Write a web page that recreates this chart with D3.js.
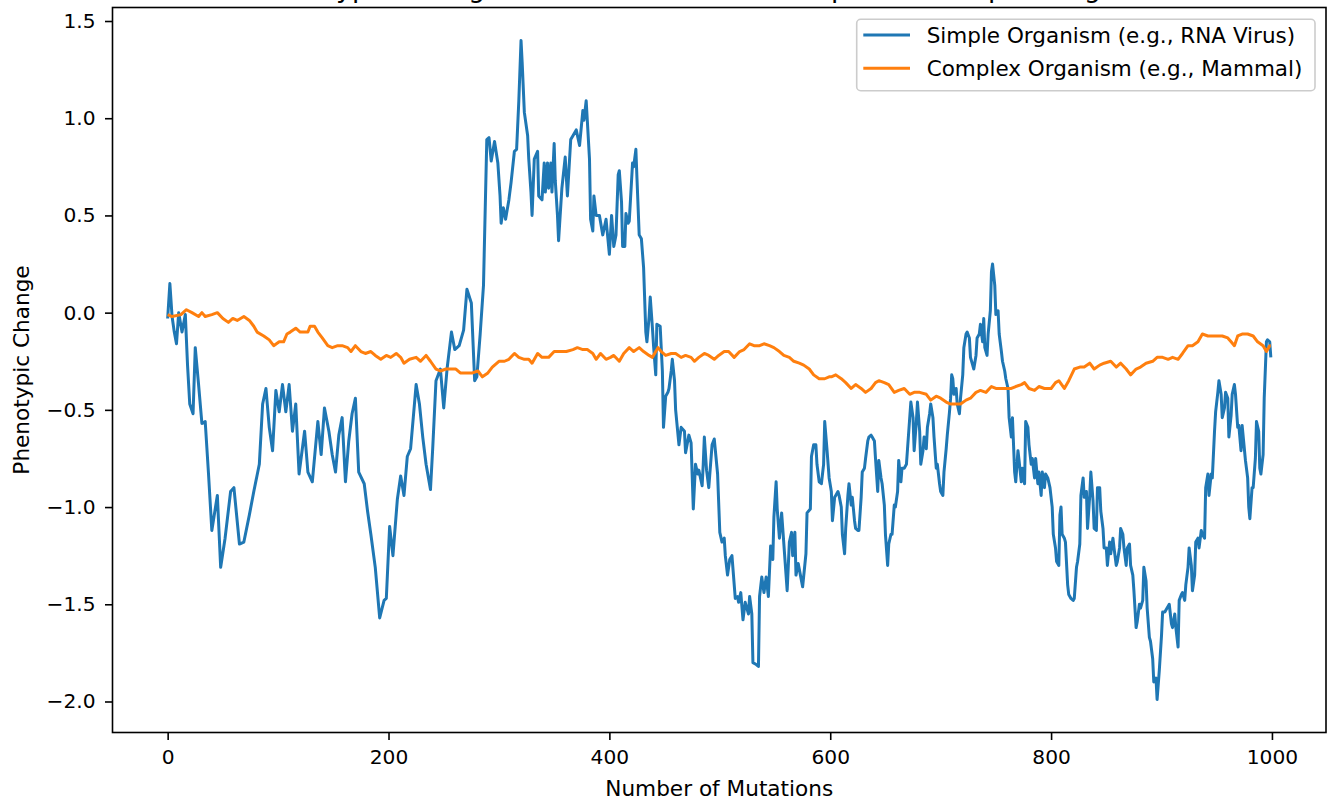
<!DOCTYPE html>
<html>
<head>
<meta charset="utf-8">
<script src="https://cdn.jsdelivr.net/npm/d3@7"></script>
<style>
  body { margin: 0; background: #fff; }
  svg text { font-family: "DejaVu Sans", sans-serif; fill: #000; }
</style>
</head>
<body>
<svg id="chart" width="1327" height="801"></svg>
<script>
// [mutation, phenotypic change]
const simplePoints = [
  [0,-0.03],[2,0.15],[4,-0.02],[6,-0.10],[8,-0.16],[10,0.00],[13,-0.10],[16,-0.01],[18,-0.27],[20,-0.47],
  [23,-0.52],[25,-0.18],[28,-0.37],[31,-0.57],[34,-0.56],[37,-0.83],[40,-1.12],[45,-0.94],[48,-1.31],[52,-1.16],
  [57,-0.92],[60,-0.90],[65,-1.19],[69,-1.18],[74,-1.04],[78,-0.92],[83,-0.78],[86,-0.47],[89,-0.39],[92,-0.59],
  [95,-0.71],[98,-0.40],[101,-0.51],[104,-0.37],[107,-0.51],[110,-0.37],[113,-0.61],[116,-0.47],[119,-0.83],[124,-0.61],
  [127,-0.82],[131,-0.87],[136,-0.56],[139,-0.73],[142,-0.49],[146,-0.61],[149,-0.73],[152,-0.82],[155,-0.63],[158,-0.54],
  [161,-0.87],[164,-0.66],[167,-0.52],[170,-0.44],[173,-0.82],[178,-0.88],[181,-1.02],[184,-1.14],[188,-1.31],[192,-1.57],
  [196,-1.48],[198,-1.47],[201,-1.10],[204,-1.25],[208,-0.96],[211,-0.84],[214,-0.94],[217,-0.74],[220,-0.70],[225,-0.37],
  [228,-0.47],[231,-0.64],[234,-0.78],[238,-0.91],[240,-0.70],[243,-0.35],[247,-0.29],[250,-0.49],[253,-0.29],[257,-0.10],
  [260,-0.19],[264,-0.17],[268,-0.09],[271,0.12],[275,0.05],[278,-0.35],[280,-0.33],[283,-0.11],[286,0.14],[289,0.89],
  [291,0.90],[293,0.78],[296,0.88],[299,0.77],[301,0.60],[302,0.46],[304,0.54],[306,0.48],[309,0.58],[311,0.67],
  [314,0.83],[316,0.84],[318,1.09],[320,1.40],[321,1.29],[323,1.03],[326,0.91],[327,0.79],[329,0.62],[330,0.50],
  [332,0.79],[335,0.83],[336,0.60],[339,0.58],[341,0.77],[342,0.62],[344,0.77],[345,0.64],[347,0.77],[348,0.62],
  [350,0.87],[351,0.68],[353,0.50],[354,0.37],[357,0.64],[360,0.80],[362,0.60],[365,0.89],[367,0.91],[370,0.94],
  [373,0.86],[376,1.04],[377,0.99],[379,1.09],[380,0.99],[382,0.79],[383,0.48],[385,0.42],[386,0.60],[388,0.50],
  [391,0.50],[394,0.40],[397,0.48],[400,0.30],[402,0.50],[404,0.34],[406,0.40],[408,0.71],[409,0.73],[411,0.57],
  [412,0.34],[414,0.34],[415,0.51],[417,0.46],[418,0.47],[421,0.77],[422,0.75],[424,0.84],[425,0.69],[427,0.40],
  [429,0.38],[431,0.23],[433,-0.10],[434,-0.15],[436,-0.02],[437,0.08],[439,-0.08],[440,-0.17],[442,-0.32],[443,-0.06],
  [446,-0.07],[448,-0.30],[449,-0.59],[451,-0.43],[453,-0.41],[454,-0.39],[456,-0.30],[457,-0.24],[459,-0.35],[460,-0.50],
  [463,-0.68],[465,-0.59],[468,-0.61],[469,-0.72],[472,-0.63],[474,-0.67],[476,-1.01],[478,-0.78],[480,-0.83],[481,-0.81],
  [484,-0.89],[485,-0.78],[486,-0.64],[488,-0.81],[490,-0.90],[493,-0.68],[495,-0.65],[498,-0.83],[500,-1.13],[502,-1.18],
  [504,-1.16],[505,-1.25],[507,-1.35],[509,-1.27],[511,-1.25],[514,-1.47],[516,-1.46],[517,-1.49],[519,-1.44],[521,-1.58],
  [523,-1.49],[524,-1.51],[526,-1.55],[527,-1.46],[529,-1.55],[530,-1.80],[533,-1.81],[535,-1.82],[536,-1.46],[538,-1.36],
  [540,-1.44],[542,-1.36],[544,-1.46],[546,-1.20],[548,-1.27],[549,-1.05],[551,-0.87],[552,-1.01],[554,-1.16],[556,-1.03],
  [557,-1.11],[559,-1.27],[561,-1.43],[563,-1.18],[565,-1.13],[566,-1.25],[568,-1.13],[569,-1.35],[571,-1.29],[573,-1.35],
  [575,-1.41],[578,-1.24],[579,-1.03],[582,-1.01],[583,-0.74],[585,-0.68],[587,-0.68],[588,-0.78],[590,-0.87],[592,-0.88],
  [594,-0.78],[595,-0.56],[597,-0.70],[599,-0.85],[601,-0.92],[602,-1.07],[604,-0.95],[605,-0.94],[607,-0.92],[608,-0.94],
  [610,-1.00],[611,-1.14],[613,-1.24],[614,-1.11],[616,-0.94],[617,-0.88],[619,-0.99],[620,-0.95],[622,-1.07],[623,-1.11],
  [625,-1.12],[626,-1.12],[628,-0.95],[629,-0.82],[631,-0.80],[632,-0.75],[634,-0.66],[635,-0.64],[637,-0.63],[638,-0.64],
  [640,-0.66],[641,-0.75],[643,-0.92],[644,-0.76],[646,-0.85],[647,-0.88],[649,-0.99],[650,-1.14],[652,-1.30],[653,-1.19],
  [655,-1.14],[656,-1.14],[658,-0.99],[659,-1.00],[661,-0.92],[662,-0.76],[664,-0.87],[665,-0.80],[667,-0.80],[669,-0.78],
  [670,-0.70],[672,-0.54],[673,-0.46],[675,-0.54],[676,-0.71],[678,-0.56],[679,-0.46],[681,-0.61],[682,-0.78],[684,-0.71],
  [685,-0.64],[687,-0.70],[688,-0.59],[690,-0.52],[691,-0.47],[693,-0.54],[694,-0.64],[696,-0.80],[697,-0.78],[699,-0.88],
  [700,-0.92],[702,-0.94],[703,-0.82],[705,-0.70],[706,-0.63],[708,-0.51],[709,-0.44],[710,-0.32],[711,-0.34],[712,-0.42],
  [714,-0.39],[715,-0.47],[717,-0.52],[718,-0.44],[720,-0.32],[721,-0.18],[723,-0.11],[724,-0.10],[726,-0.13],[727,-0.23],
  [729,-0.27],[730,-0.29],[732,-0.22],[733,-0.13],[735,-0.11],[736,-0.06],[738,-0.15],[739,-0.03],[740,-0.18],[742,-0.22],
  [743,-0.11],[745,0.01],[746,0.21],[747,0.25],[749,0.14],[750,-0.01],[752,0.01],[753,-0.11],[755,-0.20],[756,-0.25],
  [758,-0.30],[759,-0.34],[761,-0.39],[762,-0.54],[764,-0.64],[765,-0.54],[767,-0.82],[768,-0.87],[770,-0.71],[771,-0.76],
  [773,-0.87],[774,-0.80],[776,-0.88],[777,-0.56],[779,-0.59],[780,-0.68],[782,-0.78],[783,-0.75],[785,-0.85],[786,-0.75],
  [788,-0.88],[789,-0.82],[791,-0.94],[792,-0.82],[794,-0.90],[795,-0.83],[797,-0.85],[799,-0.90],[801,-1.00],[802,-1.14],
  [804,-1.21],[805,-1.28],[807,-1.30],[808,-1.04],[809,-1.00],[810,-1.14],[812,-1.16],[813,-1.18],[815,-1.40],[816,-1.45],
  [818,-1.47],[820,-1.48],[821,-1.47],[823,-1.31],[824,-1.28],[826,-1.19],[827,-0.94],[829,-0.85],[830,-0.95],[832,-0.92],
  [833,-1.11],[835,-0.94],[836,-0.82],[838,-0.97],[839,-1.11],[841,-1.12],[842,-0.90],[844,-0.90],[845,-1.02],[847,-1.11],
  [848,-1.21],[850,-1.21],[851,-1.30],[853,-1.18],[854,-1.24],[856,-1.16],[857,-1.21],[859,-1.30],[860,-1.28],[862,-1.21],
  [863,-1.11],[865,-1.14],[866,-1.21],[868,-1.30],[869,-1.21],[871,-1.19],[872,-1.30],[874,-1.35],[875,-1.43],[877,-1.62],
  [878,-1.59],[880,-1.50],[881,-1.52],[883,-1.48],[884,-1.31],[886,-1.38],[887,-1.52],[889,-1.67],[890,-1.69],[892,-1.78],
  [893,-1.90],[895,-1.88],[896,-1.99],[898,-1.84],[900,-1.66],[901,-1.54],[903,-1.54],[904,-1.53],[906,-1.51],[907,-1.50],
  [909,-1.60],[910,-1.62],[912,-1.55],[913,-1.62],[915,-1.72],[916,-1.48],[918,-1.45],[919,-1.44],[921,-1.48],[922,-1.40],
  [924,-1.31],[925,-1.21],[927,-1.30],[928,-1.43],[930,-1.35],[931,-1.18],[933,-1.16],[934,-1.21],[936,-1.12],[937,-1.14],
  [939,-1.16],[940,-0.90],[942,-0.83],[943,-0.94],[945,-0.83],[946,-0.85],[948,-0.61],[949,-0.51],[951,-0.41],[952,-0.35],
  [954,-0.42],[955,-0.54],[957,-0.49],[958,-0.41],[960,-0.44],[961,-0.64],[963,-0.53],[964,-0.42],[966,-0.37],[967,-0.42],
  [969,-0.59],[970,-0.58],[972,-0.71],[973,-0.58],[975,-0.70],[976,-0.76],[978,-0.85],[979,-1.00],[980,-1.06],[982,-0.90],
  [983,-0.90],[985,-0.75],[986,-0.56],[988,-0.61],[989,-0.80],[990,-0.83],[992,-0.73],[993,-0.44],[995,-0.15],[996,-0.14],
  [998,-0.15],[999,-0.23]
];

const complexPoints = [
  [0,-0.01],[4,-0.02],[12,-0.01],[17,0.015],[22,0.00],[28,-0.02],[31,0.00],[34,-0.02],[40,-0.01],[45,0.00],
  [50,-0.03],[55,-0.05],[59,-0.03],[63,-0.04],[69,-0.02],[74,-0.04],[78,-0.07],[81,-0.10],[87,-0.12],[92,-0.14],
  [96,-0.17],[101,-0.15],[105,-0.15],[108,-0.11],[111,-0.10],[116,-0.08],[120,-0.10],[127,-0.10],[129,-0.07],[133,-0.07],
  [136,-0.10],[140,-0.13],[145,-0.17],[149,-0.18],[154,-0.17],[158,-0.17],[163,-0.18],[166,-0.20],[170,-0.17],[175,-0.20],
  [179,-0.21],[184,-0.20],[188,-0.22],[193,-0.24],[198,-0.22],[202,-0.23],[207,-0.21],[211,-0.23],[214,-0.26],[219,-0.24],
  [225,-0.23],[229,-0.25],[234,-0.22],[238,-0.25],[243,-0.29],[247,-0.30],[252,-0.29],[256,-0.29],[261,-0.29],[265,-0.31],
  [270,-0.31],[276,-0.31],[281,-0.30],[285,-0.33],[290,-0.31],[294,-0.28],[300,-0.25],[305,-0.25],[309,-0.24],[314,-0.21],
  [318,-0.23],[323,-0.24],[327,-0.24],[330,-0.26],[335,-0.21],[339,-0.23],[345,-0.23],[350,-0.20],[355,-0.20],[361,-0.20],
  [367,-0.19],[371,-0.18],[376,-0.19],[380,-0.19],[385,-0.21],[388,-0.24],[392,-0.21],[397,-0.24],[401,-0.23],[404,-0.22],
  [409,-0.25],[413,-0.21],[418,-0.18],[422,-0.20],[427,-0.18],[431,-0.20],[436,-0.22],[439,-0.23],[444,-0.18],[447,-0.20],
  [451,-0.22],[456,-0.21],[460,-0.21],[465,-0.23],[469,-0.22],[474,-0.23],[477,-0.25],[481,-0.23],[486,-0.21],[490,-0.22],
  [495,-0.24],[499,-0.22],[504,-0.20],[508,-0.20],[513,-0.23],[518,-0.20],[522,-0.19],[527,-0.16],[531,-0.17],[536,-0.17],
  [540,-0.16],[545,-0.17],[549,-0.18],[554,-0.20],[558,-0.22],[563,-0.23],[567,-0.25],[572,-0.26],[576,-0.27],[581,-0.29],
  [585,-0.32],[590,-0.34],[595,-0.34],[599,-0.33],[601,-0.33],[605,-0.32],[610,-0.34],[614,-0.36],[619,-0.39],[623,-0.37],
  [628,-0.39],[632,-0.41],[637,-0.39],[641,-0.36],[644,-0.35],[649,-0.36],[653,-0.37],[658,-0.41],[662,-0.40],[667,-0.39],
  [672,-0.42],[676,-0.41],[681,-0.41],[687,-0.42],[691,-0.45],[696,-0.43],[700,-0.44],[705,-0.46],[709,-0.47],[714,-0.47],
  [718,-0.47],[723,-0.45],[727,-0.44],[732,-0.41],[736,-0.40],[741,-0.41],[746,-0.38],[750,-0.39],[755,-0.39],[759,-0.39],
  [764,-0.39],[768,-0.38],[773,-0.37],[776,-0.36],[780,-0.39],[785,-0.40],[789,-0.38],[794,-0.39],[800,-0.39],[804,-0.36],
  [807,-0.35],[812,-0.39],[816,-0.35],[821,-0.29],[826,-0.28],[830,-0.28],[835,-0.26],[839,-0.29],[844,-0.27],[848,-0.26],
  [854,-0.25],[859,-0.28],[863,-0.26],[868,-0.29],[872,-0.32],[877,-0.29],[881,-0.28],[886,-0.26],[892,-0.25],[896,-0.23],
  [901,-0.23],[906,-0.24],[910,-0.23],[915,-0.24],[919,-0.21],[924,-0.17],[928,-0.17],[933,-0.15],[937,-0.11],[942,-0.12],
  [946,-0.12],[951,-0.12],[955,-0.12],[960,-0.13],[963,-0.15],[966,-0.17],[969,-0.12],[973,-0.11],[978,-0.11],[983,-0.12],
  [987,-0.15],[992,-0.17],[995,-0.20],[998,-0.17],[999,-0.17]
];

const seriesNames = ["Simple Organism (e.g., RNA Virus)", "Complex Organism (e.g., Mammal)"];
const seriesColors = ["#1f77b4", "#ff7f0e"];
const xTicks = [0, 200, 400, 600, 800, 1000];
const yTicks = [-2.0, -1.5, -1.0, -0.5, 0.0, 0.5, 1.0, 1.5];
const chartTitle = "Phenotypic Change Due to Mutations in Simple vs. Complex Organisms";
const xLabel = "Number of Mutations";
const yLabel = "Phenotypic Change";

// axes box in pixels
const plotLeft = 112.5, plotRight = 1326, plotTop = 7.5, plotBottom = 732.5;

const svg = d3.select("#chart");

// 5% padding like matplotlib autoscale
const xMin = 0, xMax = 999;
const allValues = simplePoints.concat(complexPoints).map(d => d[1]);
const yMin = d3.min(allValues), yMax = d3.max(allValues);
const xPad = (xMax - xMin) * 0.05;
const yPad = (yMax - yMin) * 0.05;

const x = d3.scaleLinear().domain([xMin - xPad, xMax + xPad]).range([plotLeft, plotRight]);
const y = d3.scaleLinear().domain([yMin - yPad, yMax + yPad]).range([plotBottom, plotTop]);

// lines
const line = d3.line()
  .x(d => x(d[0]))
  .y(d => y(d[1]));

[simplePoints, complexPoints].forEach((pts, i) => {
  svg.append("path")
    .datum(pts)
    .attr("d", line)
    .attr("fill", "none")
    .attr("stroke", seriesColors[i])
    .attr("stroke-width", 3)
    .attr("stroke-linejoin", "round");
});

// axes
const xAxis = svg.append("g")
  .attr("transform", `translate(0,${plotBottom})`)
  .call(d3.axisBottom(x).tickValues(xTicks).tickFormat(d3.format("d")).tickSize(7.5).tickPadding(9.5));

const yAxis = svg.append("g")
  .attr("transform", `translate(${plotLeft},0)`)
  .call(d3.axisLeft(y).tickValues(yTicks).tickFormat(d3.format(".1f")).tickSize(7.5).tickPadding(9.5));

[xAxis, yAxis].forEach(g => {
  g.select(".domain").remove();
  g.selectAll(".tick line").attr("stroke", "#000").attr("stroke-width", 1.6);
  g.selectAll(".tick text")
    .attr("font-family", "DejaVu Sans")
    .attr("font-size", 20.2)
    .attr("fill", "#000");
});

// frame
svg.append("rect")
  .attr("x", plotLeft).attr("y", plotTop)
  .attr("width", plotRight - plotLeft).attr("height", plotBottom - plotTop)
  .attr("fill", "none")
  .attr("stroke", "#000")
  .attr("stroke-width", 1.6);

// labels
svg.append("text")
  .attr("x", (plotLeft + plotRight) / 2).attr("y", 796)
  .attr("text-anchor", "middle")
  .attr("font-size", 21.6)
  .text(xLabel);

svg.append("text")
  .attr("transform", `translate(29,${(plotTop + plotBottom) / 2}) rotate(-90)`)
  .attr("text-anchor", "middle")
  .attr("font-size", 21.6)
  .text(yLabel);

// title, mostly above the top edge as in the reference
svg.append("text")
  .attr("x", (plotLeft + plotRight) / 2).attr("y", -3.5)
  .attr("text-anchor", "middle")
  .attr("font-size", 26.7)
  .text(chartTitle);

// legend
const legend = svg.append("g");
legend.append("rect")
  .attr("x", 856.7).attr("y", 19.3)
  .attr("width", 458.3).attr("height", 71.4)
  .attr("rx", 4).attr("ry", 4)
  .attr("fill", "#fff").attr("fill-opacity", 0.8)
  .attr("stroke", "#cccccc").attr("stroke-width", 1.6);

seriesNames.forEach((name, i) => {
  const ly = 35 + i * 33.3;
  legend.append("line")
    .attr("x1", 863.3).attr("x2", 910)
    .attr("y1", ly).attr("y2", ly)
    .attr("stroke", seriesColors[i])
    .attr("stroke-width", 3);
  legend.append("text")
    .attr("x", 926.7).attr("y", ly)
    .attr("dy", "0.35em")
    .attr("font-size", 21.5)
    .text(name);
});
</script>
</body>
</html>
